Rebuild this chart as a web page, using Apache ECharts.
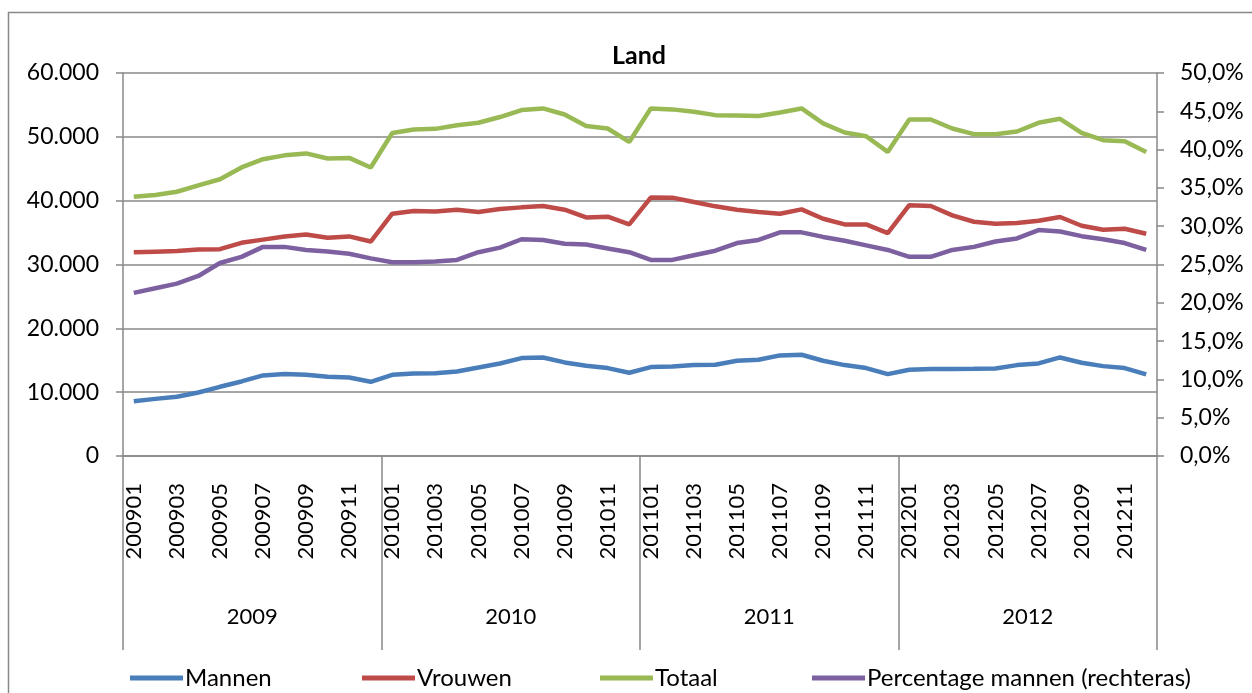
<!DOCTYPE html>
<html>
<head>
<meta charset="utf-8">
<script src="https://cdn.jsdelivr.net/npm/echarts@6/dist/echarts.min.js"></script>
<style>
  html, body { margin: 0; padding: 0; background: #fff; }
  #chart { width: 1252px; height: 693px; }
</style>
</head>
<body>
<div id="chart"></div>
<script>
var months = [
  "200901","200902","200903","200904","200905","200906","200907","200908","200909","200910","200911","200912",
  "201001","201002","201003","201004","201005","201006","201007","201008","201009","201010","201011","201012",
  "201101","201102","201103","201104","201105","201106","201107","201108","201109","201110","201111","201112",
  "201201","201202","201203","201204","201205","201206","201207","201208","201209","201210","201211","201212"
];
var years = ["2009", "2010", "2011", "2012"];

var mannen = [
  8590, 8950, 9270, 9950, 10840, 11680, 12620, 12830, 12720, 12410, 12300, 11620,
  12720, 12930, 12980, 13250, 13870, 14500, 15340, 15440, 14660, 14140, 13770, 13040,
  13930, 14030, 14240, 14290, 14920, 15080, 15760, 15860, 14920, 14240, 13770, 12830,
  13520, 13610, 13610, 13660, 13720, 14240, 14500, 15440, 14610, 14080, 13770, 12780
];
var vrouwen = [
  31900, 32000, 32100, 32350, 32400, 33400, 33900, 34400, 34700, 34200, 34400, 33600,
  37960, 38380, 38320, 38590, 38220, 38700, 38950, 39160, 38590, 37380, 37490, 36280,
  40480, 40470, 39790, 39110, 38590, 38220, 37960, 38640, 37170, 36280, 36280, 34920,
  39300, 39160, 37700, 36700, 36390, 36490, 36860, 37440, 36070, 35440, 35600, 34820
];
var totaal = [
  40600, 40900, 41400, 42400, 43350, 45200, 46500, 47100, 47400, 46600, 46700, 45200,
  50600, 51150, 51250, 51800, 52200, 53100, 54200, 54450, 53500, 51700, 51300, 49200,
  54450, 54300, 53930, 53400, 53350, 53250, 53820, 54450, 52100, 50680, 50100, 47640,
  52720, 52720, 51300, 50420, 50420, 50840, 52200, 52830, 50630, 49480, 49320, 47640
];
// percentage mannen, in %
var percentage = [
  21.3, 21.9, 22.5, 23.5, 25.2, 26.0, 27.3, 27.3, 26.9, 26.7, 26.4, 25.8,
  25.3, 25.3, 25.4, 25.6, 26.6, 27.2, 28.3, 28.2, 27.7, 27.6, 27.1, 26.6,
  25.6, 25.6, 26.2, 26.8, 27.8, 28.2, 29.2, 29.2, 28.6, 28.1, 27.5, 26.9,
  26.0, 26.0, 26.9, 27.3, 28.0, 28.4, 29.5, 29.3, 28.7, 28.3, 27.8, 26.9
];
var seriesNames = ["Mannen", "Vrouwen", "Totaal", "Percentage mannen (rechteras)"];

var FONT = "Lato";
var GRIDCOL = "#888888";

// one legend per item, so each sits where Excel put it
var legendLeft = [125, 357, 595, 807];
var legends = seriesNames.map(function (n, i) {
  return {
    left: legendLeft[i],
    top: 661,
    icon: "rect",
    itemWidth: 53,
    itemHeight: 5,
    textStyle: { fontFamily: FONT, fontSize: 24, color: "#000", padding: [0, 0, 0, -3] },
    data: [n]
  };
});

var chart = echarts.init(document.getElementById("chart"));
chart.setOption({
  animation: false,
  textStyle: { fontFamily: FONT },
  title: {
    text: "Land",
    left: 607,
    top: 38,
    textStyle: { fontFamily: FONT, fontSize: 25, fontWeight: "bold", color: "#000" }
  },
  graphic: [{
    type: "rect",
    z: -10,
    shape: { x: 8.5, y: 12.5, width: 1300, height: 720 },
    style: { fill: "none", stroke: GRIDCOL, lineWidth: 1.5 }
  }],
  legend: legends,
  grid: { left: 123, right: 95, top: 73, bottom: 237 },
  xAxis: [
    {
      type: "category",
      data: months,
      boundaryGap: true,
      axisLine: { lineStyle: { color: GRIDCOL, width: 1.5 } },
      axisTick: { show: false },
      axisLabel: {
        interval: 1,
        rotate: 90,
        margin: 27,
        fontFamily: FONT,
        fontSize: 22,
        color: "#000"
      }
    },
    {
      type: "category",
      data: years,
      position: "bottom",
      boundaryGap: true,
      axisLine: { show: false },
      axisTick: { show: true, length: 194, interval: 0, lineStyle: { color: GRIDCOL, width: 1.5 } },
      axisLabel: { margin: 150, fontFamily: FONT, fontSize: 22, color: "#000" }
    }
  ],
  yAxis: [
    {
      type: "value",
      min: 0,
      max: 60000,
      interval: 10000,
      axisLine: { show: true, lineStyle: { color: GRIDCOL, width: 1.5 } },
      axisTick: { show: true, length: 7, lineStyle: { color: GRIDCOL, width: 1.5 } },
      splitLine: { show: true, lineStyle: { color: GRIDCOL, width: 1.5 } },
      axisLabel: {
        margin: 24,
        fontFamily: FONT,
        fontSize: 23,
        color: "#000",
        formatter: function (v) {
          return v === 0 ? "0" : String(v).replace(/\B(?=(\d{3})+(?!\d))/g, ".");
        }
      }
    },
    {
      type: "value",
      min: 0,
      max: 50,
      interval: 5,
      position: "right",
      axisLine: { show: true, lineStyle: { color: GRIDCOL, width: 1.5 } },
      axisTick: { show: true, length: 7, lineStyle: { color: GRIDCOL, width: 1.5 } },
      splitLine: { show: false },
      axisLabel: {
        margin: 23,
        fontFamily: FONT,
        fontSize: 23,
        color: "#000",
        formatter: function (v) { return v.toFixed(1).replace(".", ",") + "%"; }
      }
    }
  ],
  series: [
    {
      name: seriesNames[0], type: "line", data: mannen, showSymbol: false, symbol: "none",
      itemStyle: { color: "#4A7EBB" }, lineStyle: { color: "#4A7EBB", width: 4.5 }
    },
    {
      name: seriesNames[1], type: "line", data: vrouwen, showSymbol: false, symbol: "none",
      itemStyle: { color: "#BE4B48" }, lineStyle: { color: "#BE4B48", width: 4.5 }
    },
    {
      name: seriesNames[2], type: "line", data: totaal, showSymbol: false, symbol: "none",
      itemStyle: { color: "#98B954" }, lineStyle: { color: "#98B954", width: 4.5 }
    },
    {
      name: seriesNames[3], type: "line", yAxisIndex: 1, data: percentage,
      showSymbol: false, symbol: "none",
      itemStyle: { color: "#7D60A0" }, lineStyle: { color: "#7D60A0", width: 4.5 }
    }
  ]
});
</script>
</body>
</html>
